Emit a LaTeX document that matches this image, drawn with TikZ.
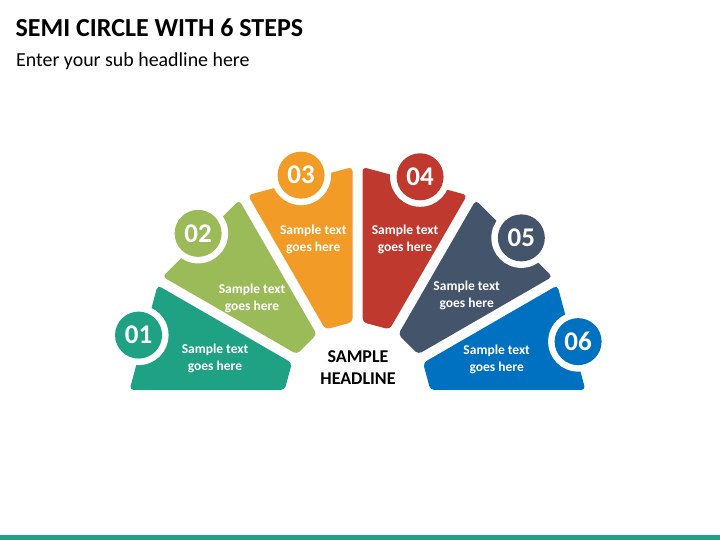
\documentclass[tikz,border=0pt]{standalone}
\usepackage{fontspec}
\setmainfont{Carlito}
\definecolor{cA}{HTML}{1FA184}
\definecolor{cB}{HTML}{9BBB59}
\definecolor{cC}{HTML}{F29B26}
\definecolor{cD}{HTML}{C0392F}
\definecolor{cE}{HTML}{44546A}
\definecolor{cF}{HTML}{0070C0}
\definecolor{barcol}{HTML}{21A084}
\begin{document}
\begin{tikzpicture}[x=1pt,y=1pt,
  segshape/.style={rounded corners=4pt},
  numdisc/.style={circle, fill=#1, minimum size=47pt, inner sep=0pt, text=white,
    font=\bfseries\fontsize{27}{27}\selectfont},
  segtext/.style={text=white, align=center, inner sep=0pt,
    font=\bfseries\fontsize{13.5}{17}\selectfont}]
\useasboundingbox (0,0) rectangle (720,540);
\fill[white] (0,0) rectangle (720,540);
\fill[barcol] (0,0) rectangle (720,5.3);
\node[anchor=base west, inner sep=0pt, font=\bfseries\fontsize{26}{30}\selectfont] (title) at (15.5,503.3) {SEMI CIRCLE WITH 6 STEPS};
\node[anchor=base west, inner sep=0pt, font=\fontsize{19.9}{23}\selectfont] (sub) at (16,473) {Enter your sub headline here};
\begin{scope}[shift={(357.5,145)}]
  \fill[cA, segshape] ({180-1.257}:228) -- ({150+1.257}:228) -- ({150+3.93}:73) -- ({180-3.93}:73) -- cycle;
  \fill[cB, segshape] ({150-1.257}:228) -- ({120+1.257}:228) -- ({120+3.93}:73) -- ({150-3.93}:73) -- cycle;
  \fill[cC, segshape] ({120-1.257}:228) -- ({90+1.257}:228) -- ({90+3.93}:73) -- ({120-3.93}:73) -- cycle;
  \fill[cD, segshape] ({90-1.257}:228) -- ({60+1.257}:228) -- ({60+3.93}:73) -- ({90-3.93}:73) -- cycle;
  \fill[cE, segshape] ({60-1.257}:228) -- ({30+1.257}:228) -- ({30+3.93}:73) -- ({60-3.93}:73) -- cycle;
  \fill[cF, segshape] ({30-1.257}:228) -- ({0+1.257}:228) -- ({0+3.93}:73) -- ({30-3.93}:73) -- cycle;
  \foreach \ang in {164.7,134.6,104.4,74,43.8,13.6} {
    \fill[white] (\ang:227) circle (30);
  }
  \node[numdisc=cA] (n1) at (164.7:227) {01};
  \node[numdisc=cB] (n2) at (134.6:227) {02};
  \node[numdisc=cC] (n3) at (104.4:227) {03};
  \node[numdisc=cD] (n4) at (74:227) {04};
  \node[numdisc=cE] (n5) at (43.8:227) {05};
  \node[numdisc=cF] (n6) at (13.6:227) {06};
\end{scope}
\node[segtext] (t1) at (215,181.5) {Sample text\\goes here};
\node[segtext] (t2) at (252,241.3) {Sample text\\goes here};
\node[segtext] (t3) at (313.3,301) {Sample text\\goes here};
\node[segtext] (t4) at (405,301) {Sample text\\goes here};
\node[segtext] (t5) at (466.7,244.7) {Sample text\\goes here};
\node[segtext] (t6) at (496.7,180.5) {Sample text\\goes here};
\node[align=center, inner sep=0pt, font=\bfseries\fontsize{18}{21.7}\selectfont] (head) at (358,172.5) {SAMPLE\\HEADLINE};
\end{tikzpicture}
\end{document}
